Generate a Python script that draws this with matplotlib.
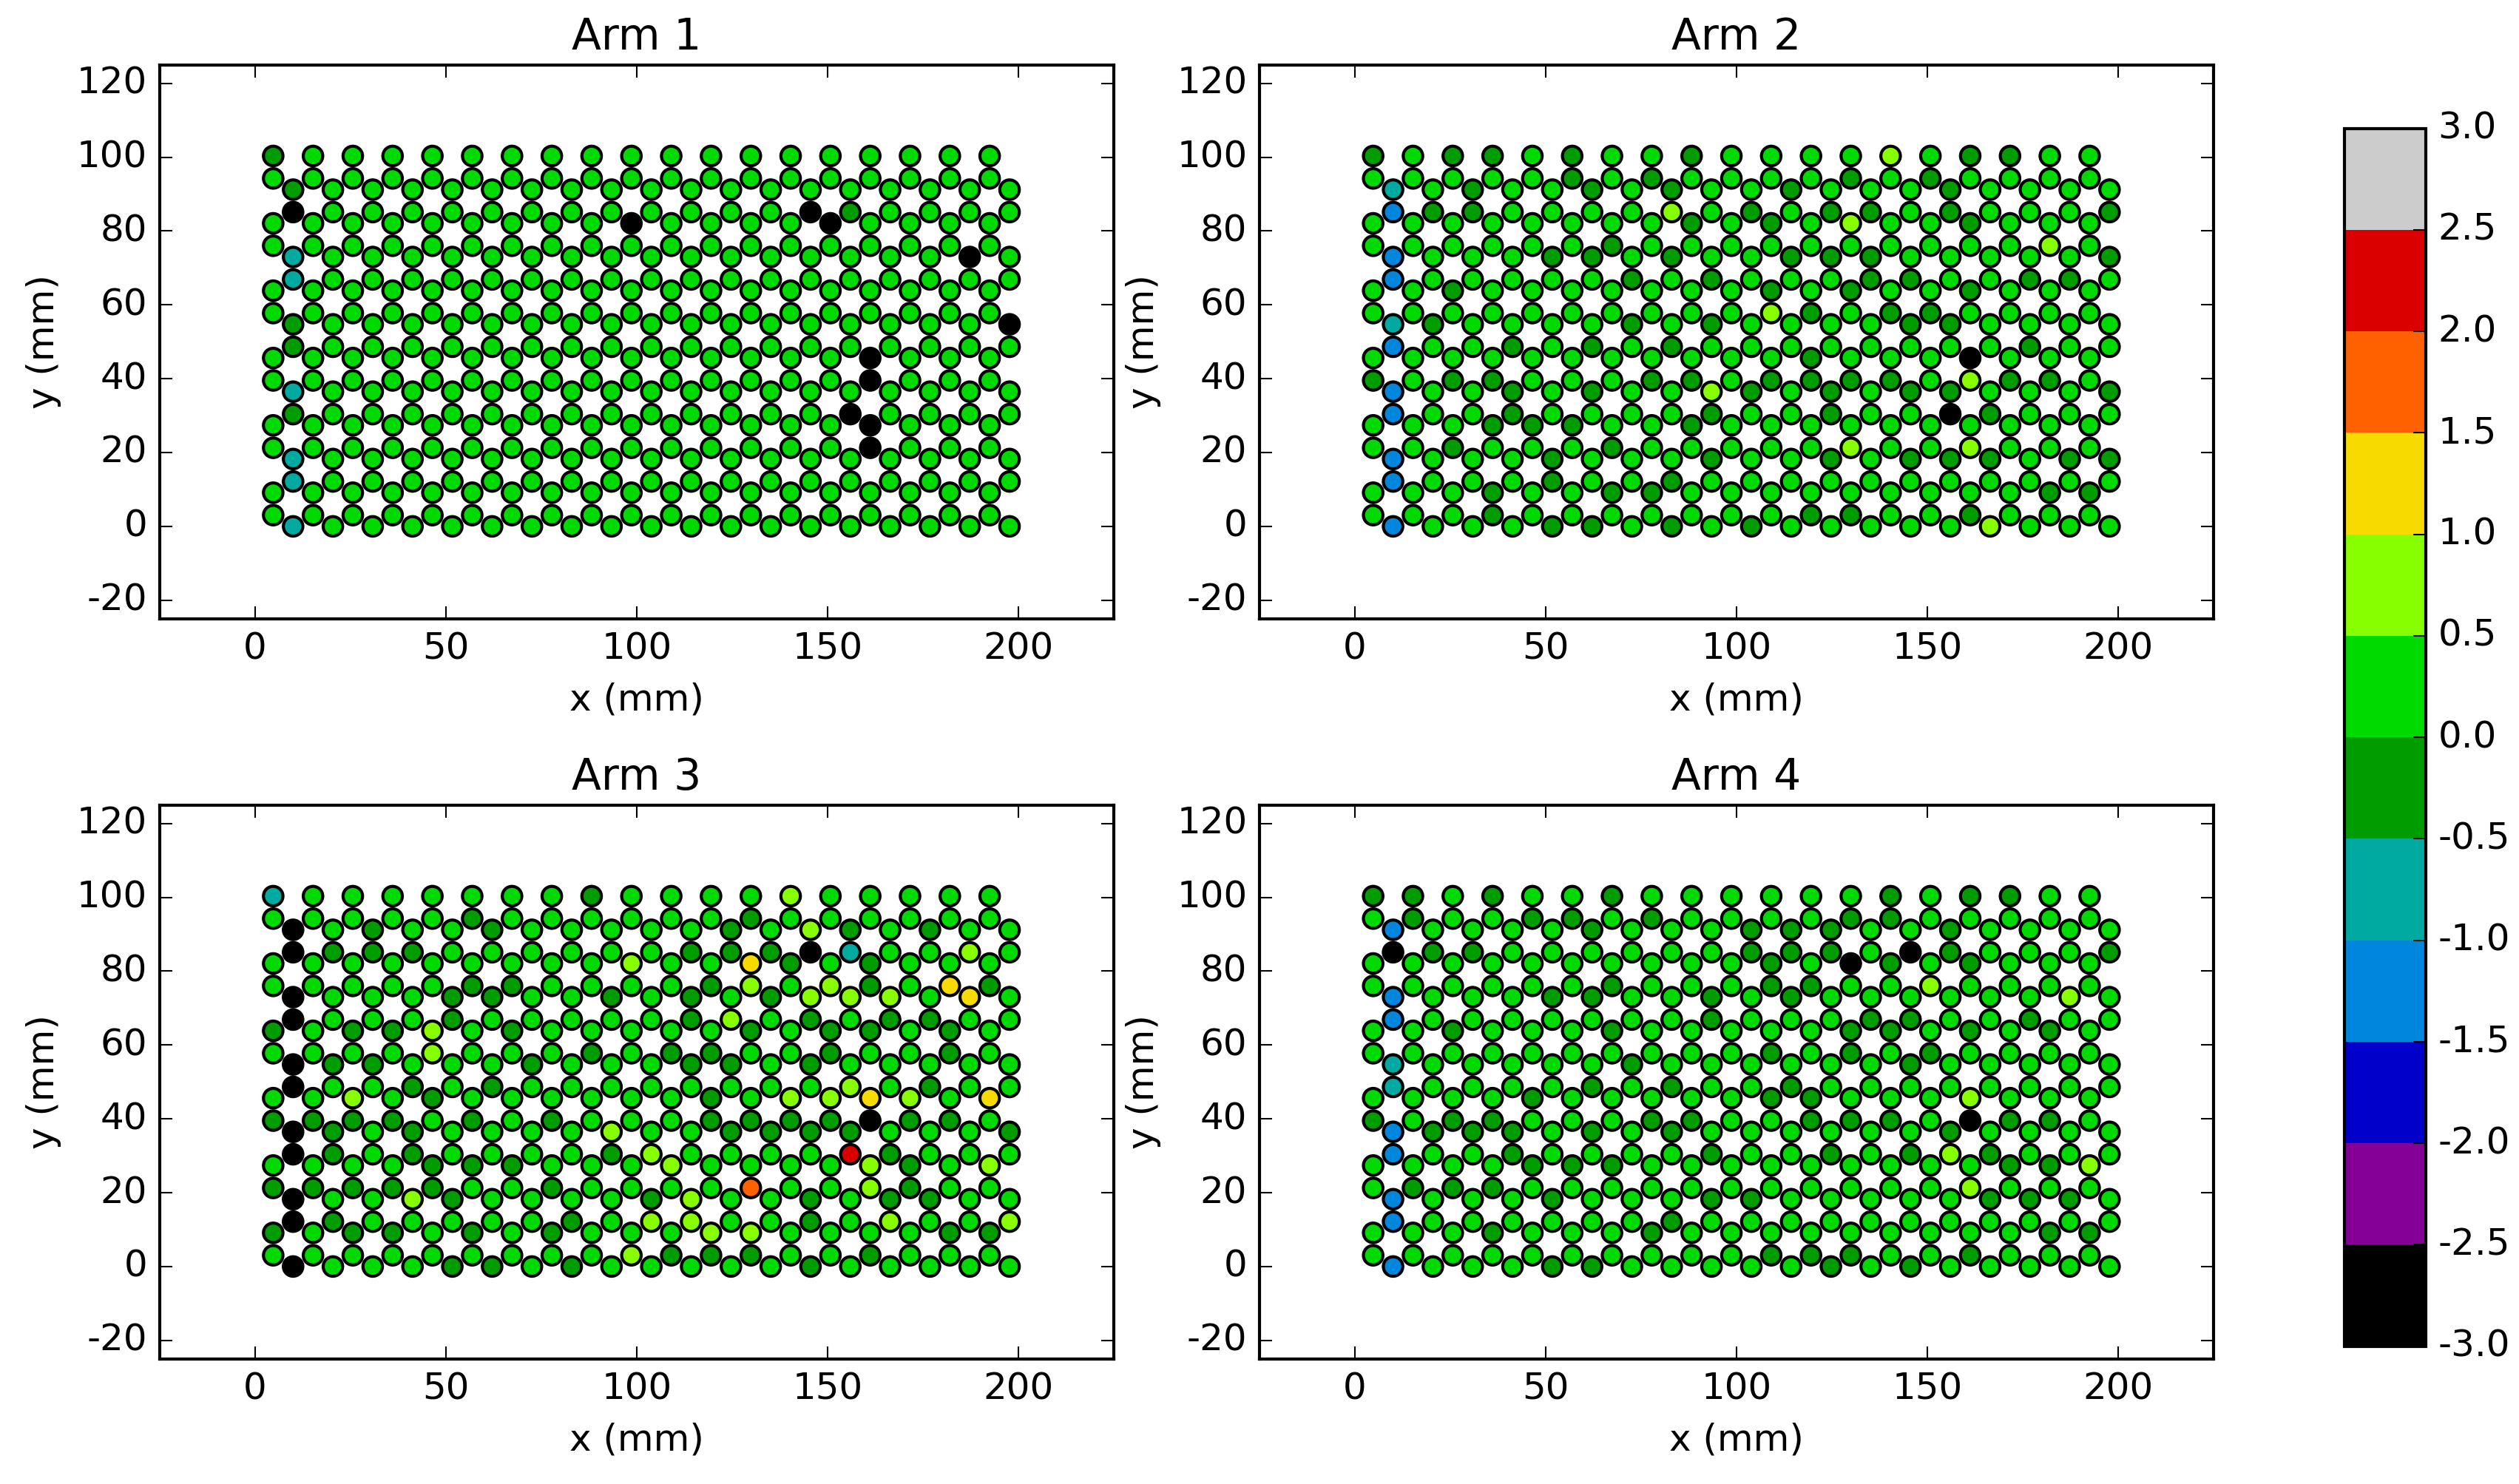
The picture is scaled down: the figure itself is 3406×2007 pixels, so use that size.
import numpy as np
import matplotlib
matplotlib.use("Agg")
import matplotlib.pyplot as plt

plt.style.use("classic")
plt.rcParams["font.family"] = ["DejaVu Sans"]
plt.rcParams["axes.unicode_minus"] = False

# ---------------------------
# sensor layout (honeycomb lattice, mm)
# ---------------------------
n_cols = 19
col_step = 10.43
x_start_b = 10.0                      # columns of the "B" sub-lattice
x_start_a = x_start_b - col_step / 2  # columns of the "A" sub-lattice

row_kind = ["A", "A", "B", "B", "A", "A", "B", "B", "A", "A", "B", "B",
            "A", "A", "B", "B", "A", "A", "B", "B", "A", "A", "B"]
row_y = [100.32, 94.24, 91.2, 85.12, 82.08, 76.0, 72.96, 66.88, 63.84, 57.76,
         54.72, 48.64, 45.6, 39.52, 36.48, 30.4, 27.36, 21.28, 18.24, 12.16,
         9.12, 3.04, 0.0]

# value read for each colour code (bin centres of the colour bar)
code_value = {"k": -2.75, "b": -1.25, "t": -0.75, "d": -0.25, ".": 0.25,
              "l": 0.75, "y": 1.25, "o": 1.75, "r": 2.25}

# ---------------------------
# readings, one string per row (top to bottom), one char per sensor
# ---------------------------
arm1 = [
    "d..................",
    "...................",
    "d..................",
    "k............kd....",
    ".........k....k....",
    "...................",
    "t................k.",
    "t..................",
    "...................",
    "...................",
    "d.................k",
    "d..................",
    "...............k...",
    "...............k...",
    "t..................",
    "d.............k....",
    "...............k...",
    "...............k...",
    "t..................",
    "t..................",
    "...................",
    "...................",
    "t..................",
]

arm2 = [
    "d.dd.d..d." "...l.dd..",
    ".....d.d.." "..d.d....",
    "t.d..d.d." ".d...d....",
    "bdd....l." "d.dd.d...d",
    "........d." "d.l..d...",
    "......d..." ".......l.",
    "b...dd.d." ".ddd.....d",
    "b.....d.d" "...dd..dd.",
    "..d......." "d.d..d...",
    ".........." "ld.dd....",
    "td....d.d" "....dd....",
    "b..d.d.d." ".......d..",
    ".........." ".d...k...",
    "d.dd...dd." "dddd.ldd.",
    "b..d.d..l" "d.d.dd...d",
    "b..d....d" "..d..kd...",
    "...ddd..d." ".........",
    "..d...d..." "..l..l...",
    "b...d...d" "..d.ddd.dd",
    "b...d..d." "..........",
    "...d..dd.." ".......dd",
    "...d......" ".dd..d...",
    "b...dd.d." "d.....l...",
]

arm3 = [
    "t.......d." "...l.....",
    ".....d...." "..d......",
    "k.d..d..." "..d.ld.d..",
    "kddd....." ".dddkt..l.",
    ".........l" "..yd.d...",
    ".....dd..." ".dl.ld.yd",
    "k...dd..d" ".d.dlll.y.",
    "k...d...." ".dl.d.dd..",
    "d.ddl.d..." "..d.dd.d.",
    "....l...d." "dd..d..d.",
    "kdd...d.." ".dd.d.....",
    "k..d.d..." ".....l.d..",
    "..l.d....." ".d.llyl.y",
    "dddd.d.d.." ".ddddkdd.",
    "kd.d....l" "..dddd...d",
    "kd.d....d" "l....rd...",
    "....ddd..." "l....ld.l",
    "ddddd..d.." "..o..ld..",
    "k..ld...." "dl..d.dd..",
    "kd.....d." "ll..d.l..l",
    "d.dd.d.d.." ".ll....dd",
    ".........l" "ddd..d...",
    "k...dd.d." "....d.....",
]

arm4 = [
    "dd.d..d..." "...d.dd..",
    ".d..dd.d.." "..dd.....",
    "b....d..." "ddd..d....",
    "kdd......" "ddd.kd...d",
    ".........." "d.kd.d...",
    "......d..." "dd..l....",
    "b...dd..d" ".d......l.",
    "b.......d" "...dd..d..",
    "..d...d..." "..dd.d.d.",
    ".........." "d.d.d....",
    "t.....d.." "....d.....",
    "t....d.d." ".d........",
    "....d....." "dd...l...",
    "d.dd...dd." ".ddd.kdd.",
    "bddd.d.d." ".....d....",
    "b..d....d" "..d.dld...",
    "....ddd..." "......ddl",
    ".ddd......" ".....l...",
    "b...d...d" "d.....ddd.",
    "b......d." "..........",
    "...d...d.." ".......dd",
    ".........." "ddd..d...",
    "b...dd..." "..d.d.....",
]

arms = [arm1, arm2, arm3, arm4]
titles = ["Arm 1", "Arm 2", "Arm 3", "Arm 4"]


def sensor_points(rows):
    xs, ys, vals = [], [], []
    for kind, y, line in zip(row_kind, row_y, rows):
        assert len(line) == n_cols
        x0 = x_start_a if kind == "A" else x_start_b
        for k, ch in enumerate(line):
            xs.append(x0 + k * col_step)
            ys.append(y)
            vals.append(code_value[ch])
    return np.array(xs), np.array(ys), np.array(vals)


cmap = matplotlib.colormaps["nipy_spectral"].resampled(12)

W, H = 3406, 2007
fig = plt.figure(figsize=(W / 300.0, H / 300.0), dpi=300, facecolor="white")

ax_w, ax_h = 1290.0 / W, 749.0 / H
positions = [
    [215.7 / W, 1 - 836.7 / H, ax_w, ax_h],
    [1703.0 / W, 1 - 836.7 / H, ax_w, ax_h],
    [215.7 / W, 1 - 1837.7 / H, ax_w, ax_h],
    [1703.0 / W, 1 - 1837.7 / H, ax_w, ax_h],
]

sc = None
for rows, title, pos in zip(arms, titles, positions):
    ax = fig.add_axes(pos)
    x, y, v = sensor_points(rows)
    sc = ax.scatter(x, y, c=v, cmap=cmap, vmin=-3, vmax=3, s=40,
                    edgecolors="k", linewidths=1.0, zorder=3)
    ax.set_xlim(-25, 225)
    ax.set_ylim(-25, 125)
    ax.set_xticks([0, 50, 100, 150, 200])
    ax.set_yticks([-20, 0, 20, 40, 60, 80, 100, 120])
    ax.set_xlabel("x (mm)", fontsize=12)
    ax.set_ylabel("y (mm)", fontsize=12)
    ax.set_title(title, fontsize=14)
    ax.tick_params(labelsize=12)

cax = fig.add_axes([3170.0 / W, 1 - 1820.7 / H, 110.0 / W, 1647.0 / H])
cb = fig.colorbar(sc, cax=cax, ticks=np.arange(-3.0, 3.01, 0.5), format="%.1f")
cb.ax.tick_params(labelsize=12)

fig.savefig("out.png", dpi=300, facecolor="white")
